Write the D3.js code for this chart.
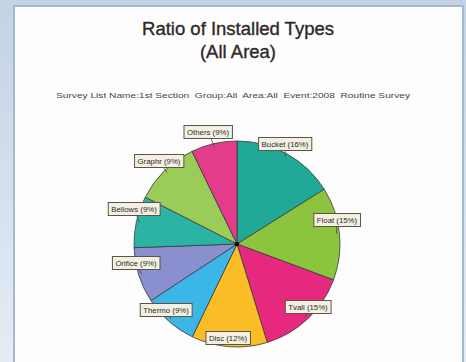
<!DOCTYPE html>
<html><head><meta charset="utf-8">
<script src="https://cdn.jsdelivr.net/npm/d3@7"></script>
<style>html,body{margin:0;padding:0;overflow:hidden;}svg{display:block;}</style>
</head><body>
<svg id="chart" width="466" height="362"></svg>
<script>
const categories = ["Bucket","Float","Tvall","Disc","Thermo","Orifice","Bellows","Graphr","Others"];
const values = [16.1,14.6,14.6,11.9,8.6,8.7,8.1,10.3,7.2];
const percentLabels = ["16%","15%","15%","12%","9%","9%","9%","9%","9%"];
const colors = ["#1fa996","#8cc43e","#e6297f","#fbbd25","#3cb6e6","#8a8fcf","#2bb3a4","#9bcb58","#e33c8b"];
const labelPos = [[285,144],[337,220],[308,307],[228,338],[166,310],[136,263],[134,209],[159,161],[208,132]];
const titleLines = ["Ratio of Installed Types","(All Area)"];
const subtitle = "Survey List Name:1st Section  Group:All  Area:All  Event:2008  Routine Survey";

const svg = d3.select("#chart");
const defs = svg.append("defs");
const g = defs.append("linearGradient").attr("id","bg").attr("x1",0).attr("y1",0).attr("x2",0).attr("y2",1);
g.append("stop").attr("offset","0").attr("stop-color","#c4d2e4");
g.append("stop").attr("offset","1").attr("stop-color","#e6ecf5");
svg.append("rect").attr("width",466).attr("height",362).attr("fill","url(#bg)");
svg.append("rect").attr("x",14).attr("y",6).attr("width",449).attr("height",360)
  .attr("fill","#fdfdfd").attr("stroke","#a3b8d4").attr("stroke-width",2);

svg.selectAll("text.title").data(titleLines).join("text").attr("class","title")
  .attr("x",238).attr("y",(d,i)=>35+i*23).attr("text-anchor","middle")
  .attr("font-family","Liberation Sans, Arial, sans-serif").attr("font-size",18.5)
  .attr("fill","#2e2828").attr("stroke","#2e2828").attr("stroke-width",0.35).text(d=>d);
svg.append("text").attr("x",233).attr("y",98).attr("text-anchor","middle")
  .attr("font-family","Liberation Sans, Arial, sans-serif").attr("font-size",7.2)
  .attr("fill","#4a4444").attr("textLength",354).attr("lengthAdjust","spacingAndGlyphs")
  .style("white-space","pre").text(subtitle);

const cx = 237, cy = 244, r = 103;
const pie = d3.pie().sort(null).startAngle(0).endAngle(2*Math.PI).value(d=>d);
const arcs = pie(values);
const arc = d3.arc().innerRadius(0).outerRadius(r);
const root = svg.append("g").attr("transform",`translate(${cx},${cy})`);
root.selectAll("path").data(arcs).join("path").attr("d",arc)
  .attr("fill",(d,i)=>colors[i]).attr("stroke","#3a3a3a").attr("stroke-width",0.8);
root.append("circle").attr("r",2.2).attr("fill","#000");

// leader lines
const mid = d => (d.startAngle + d.endAngle)/2;
svg.selectAll("line.leader").data(arcs).join("line").attr("class","leader")
  .attr("x1",d=>cx + Math.sin(mid(d))*r*0.97).attr("y1",d=>cy - Math.cos(mid(d))*r*0.97)
  .attr("x2",(d,i)=>labelPos[i][0]).attr("y2",(d,i)=>labelPos[i][1])
  .attr("stroke","#4a4a3a").attr("stroke-width",0.8);

const lg = svg.selectAll("g.lab").data(arcs).join("g").attr("class","lab")
  .attr("transform",(d,i)=>`translate(${labelPos[i][0]},${labelPos[i][1]})`);
lg.append("rect");
lg.append("text").attr("text-anchor","middle").attr("dy","0.35em")
  .attr("font-family","Liberation Sans, Arial, sans-serif").attr("font-size",7.8)
  .attr("fill","#2a2a2a").text((d,i)=>`${categories[i]} (${percentLabels[i]})`);
lg.each(function(){
  const t = d3.select(this).select("text").node().getBBox();
  d3.select(this).select("rect").attr("x",t.x-3).attr("y",-6.5).attr("width",t.width+6).attr("height",13)
    .attr("fill","#f3f0e2").attr("stroke","#5a5548").attr("stroke-width",1);
});
</script>
</body></html>
